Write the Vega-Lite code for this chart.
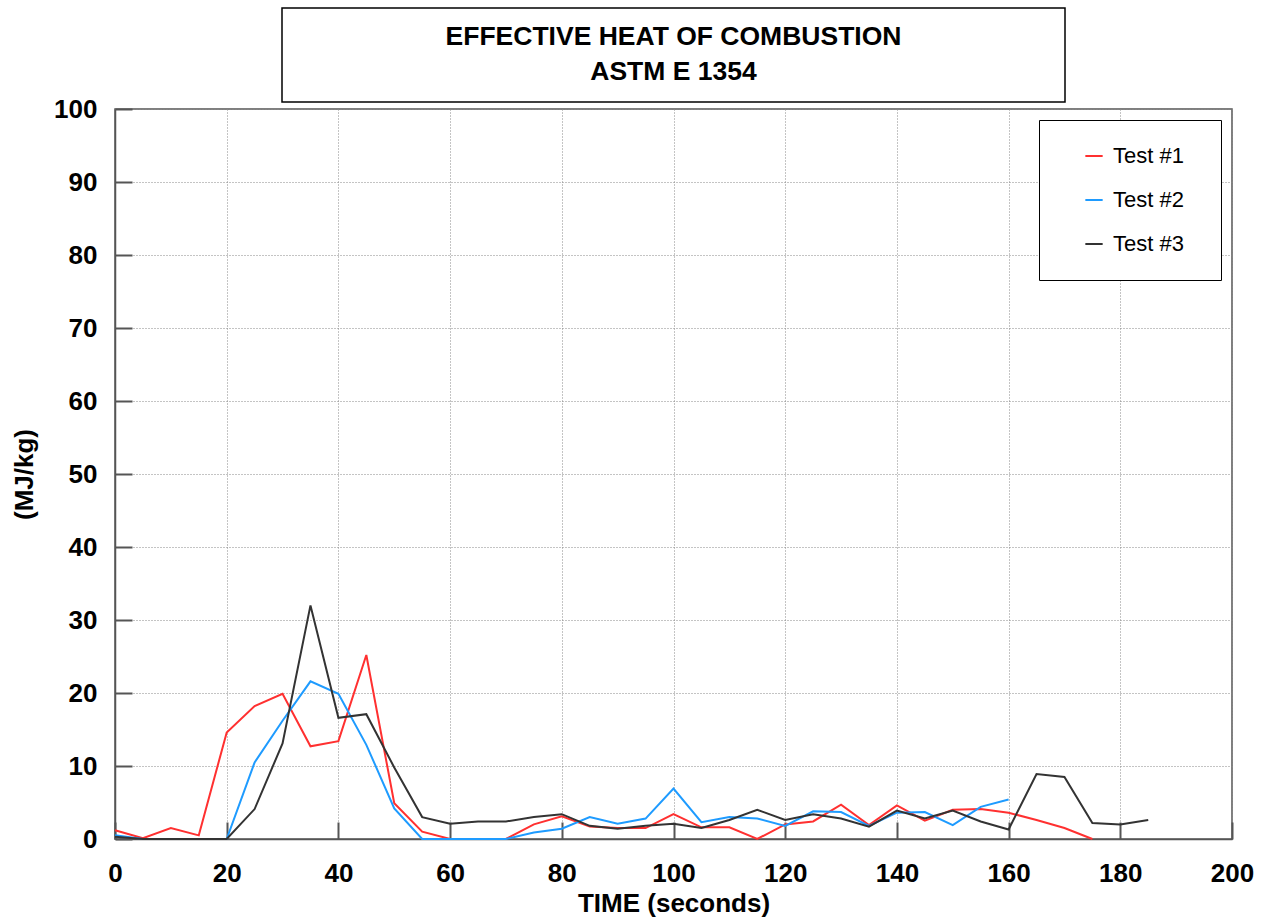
{
  "$schema": "https://vega.github.io/schema/vega-lite/v6.json",
  "padding": {"left": 10, "top": 7, "right": 5, "bottom": 3},
  "background": "white",
  "config": {
    "font": "Liberation Sans",
    "axis": {
      "labelFont": "Liberation Sans",
      "labelFontSize": 26,
      "labelFontWeight": "bold",
      "labelColor": "black",
      "titleFont": "Liberation Sans",
      "titleFontSize": 26,
      "titleFontWeight": "bold",
      "titleColor": "black",
      "domainColor": "#555",
      "domainWidth": 1.5,
      "tickColor": "#555",
      "tickWidth": 2,
      "tickSize": -17,
      "grid": true,
      "gridColor": "#888",
      "gridDash": [1, 2],
      "gridWidth": 1,
      "labelOverlap": false,
      "labelFlush": false
    }
  },
  "vconcat": [
    {
      "width": 783,
      "height": 94,
      "view": {"stroke": "black", "strokeWidth": 1.5, "fill": "white"},
      "data": {"values": [{"title": "EFFECTIVE HEAT OF COMBUSTION\nASTM E 1354"}]},
      "mark": {"type": "text", "fontSize": 26.5, "fontWeight": "bold", "lineBreak": "\n", "lineHeight": 35, "baseline": "middle", "align": "center", "dy": -18, "font": "Liberation Sans", "color": "black"},
      "encoding": {"text": {"field": "title", "type": "nominal"}}
    },
    {
      "width": 1117,
      "height": 730,
      "view": {"stroke": "#555", "strokeWidth": 1.5},
      "data": {"values": [
        {"test": "Test #1", "time": 0, "value": 1.2},
        {"test": "Test #1", "time": 5, "value": 0.1},
        {"test": "Test #1", "time": 10, "value": 1.5},
        {"test": "Test #1", "time": 15, "value": 0.5},
        {"test": "Test #1", "time": 20, "value": 14.6},
        {"test": "Test #1", "time": 25, "value": 18.2},
        {"test": "Test #1", "time": 30, "value": 19.9},
        {"test": "Test #1", "time": 35, "value": 12.7},
        {"test": "Test #1", "time": 40, "value": 13.4},
        {"test": "Test #1", "time": 45, "value": 25.2},
        {"test": "Test #1", "time": 50, "value": 4.9},
        {"test": "Test #1", "time": 55, "value": 1.0},
        {"test": "Test #1", "time": 60, "value": 0},
        {"test": "Test #1", "time": 65, "value": 0},
        {"test": "Test #1", "time": 70, "value": 0},
        {"test": "Test #1", "time": 75, "value": 2.0},
        {"test": "Test #1", "time": 80, "value": 3.1},
        {"test": "Test #1", "time": 85, "value": 1.7},
        {"test": "Test #1", "time": 90, "value": 1.5},
        {"test": "Test #1", "time": 95, "value": 1.5},
        {"test": "Test #1", "time": 100, "value": 3.4},
        {"test": "Test #1", "time": 105, "value": 1.6},
        {"test": "Test #1", "time": 110, "value": 1.6},
        {"test": "Test #1", "time": 115, "value": 0},
        {"test": "Test #1", "time": 120, "value": 2.0},
        {"test": "Test #1", "time": 125, "value": 2.4},
        {"test": "Test #1", "time": 130, "value": 4.7},
        {"test": "Test #1", "time": 135, "value": 1.9},
        {"test": "Test #1", "time": 140, "value": 4.6},
        {"test": "Test #1", "time": 145, "value": 2.5},
        {"test": "Test #1", "time": 150, "value": 4.0},
        {"test": "Test #1", "time": 155, "value": 4.1},
        {"test": "Test #1", "time": 160, "value": 3.6},
        {"test": "Test #1", "time": 165, "value": 2.6},
        {"test": "Test #1", "time": 170, "value": 1.5},
        {"test": "Test #1", "time": 175, "value": 0},
        {"test": "Test #2", "time": 0, "value": 0.5},
        {"test": "Test #2", "time": 5, "value": 0},
        {"test": "Test #2", "time": 10, "value": 0},
        {"test": "Test #2", "time": 15, "value": 0},
        {"test": "Test #2", "time": 20, "value": 0},
        {"test": "Test #2", "time": 25, "value": 10.5},
        {"test": "Test #2", "time": 30, "value": 16.2},
        {"test": "Test #2", "time": 35, "value": 21.6},
        {"test": "Test #2", "time": 40, "value": 19.9},
        {"test": "Test #2", "time": 45, "value": 12.9},
        {"test": "Test #2", "time": 50, "value": 4.2},
        {"test": "Test #2", "time": 55, "value": 0},
        {"test": "Test #2", "time": 60, "value": 0},
        {"test": "Test #2", "time": 65, "value": 0},
        {"test": "Test #2", "time": 70, "value": 0},
        {"test": "Test #2", "time": 75, "value": 0.9},
        {"test": "Test #2", "time": 80, "value": 1.4},
        {"test": "Test #2", "time": 85, "value": 3.0},
        {"test": "Test #2", "time": 90, "value": 2.1},
        {"test": "Test #2", "time": 95, "value": 2.8},
        {"test": "Test #2", "time": 100, "value": 6.9},
        {"test": "Test #2", "time": 105, "value": 2.3},
        {"test": "Test #2", "time": 110, "value": 3.0},
        {"test": "Test #2", "time": 115, "value": 2.8},
        {"test": "Test #2", "time": 120, "value": 1.8},
        {"test": "Test #2", "time": 125, "value": 3.8},
        {"test": "Test #2", "time": 130, "value": 3.7},
        {"test": "Test #2", "time": 135, "value": 1.8},
        {"test": "Test #2", "time": 140, "value": 3.6},
        {"test": "Test #2", "time": 145, "value": 3.7},
        {"test": "Test #2", "time": 150, "value": 1.9},
        {"test": "Test #2", "time": 155, "value": 4.4},
        {"test": "Test #2", "time": 160, "value": 5.4},
        {"test": "Test #3", "time": 0, "value": 0.3},
        {"test": "Test #3", "time": 5, "value": 0},
        {"test": "Test #3", "time": 10, "value": 0},
        {"test": "Test #3", "time": 15, "value": 0},
        {"test": "Test #3", "time": 20, "value": 0},
        {"test": "Test #3", "time": 25, "value": 4.1},
        {"test": "Test #3", "time": 30, "value": 13.1},
        {"test": "Test #3", "time": 35, "value": 32.0},
        {"test": "Test #3", "time": 40, "value": 16.6},
        {"test": "Test #3", "time": 45, "value": 17.1},
        {"test": "Test #3", "time": 50, "value": 9.8},
        {"test": "Test #3", "time": 55, "value": 3.0},
        {"test": "Test #3", "time": 60, "value": 2.1},
        {"test": "Test #3", "time": 65, "value": 2.4},
        {"test": "Test #3", "time": 70, "value": 2.4},
        {"test": "Test #3", "time": 75, "value": 3.0},
        {"test": "Test #3", "time": 80, "value": 3.4},
        {"test": "Test #3", "time": 85, "value": 1.8},
        {"test": "Test #3", "time": 90, "value": 1.4},
        {"test": "Test #3", "time": 95, "value": 1.8},
        {"test": "Test #3", "time": 100, "value": 2.1},
        {"test": "Test #3", "time": 105, "value": 1.5},
        {"test": "Test #3", "time": 110, "value": 2.6},
        {"test": "Test #3", "time": 115, "value": 4.0},
        {"test": "Test #3", "time": 120, "value": 2.6},
        {"test": "Test #3", "time": 125, "value": 3.4},
        {"test": "Test #3", "time": 130, "value": 2.8},
        {"test": "Test #3", "time": 135, "value": 1.7},
        {"test": "Test #3", "time": 140, "value": 3.9},
        {"test": "Test #3", "time": 145, "value": 2.8},
        {"test": "Test #3", "time": 150, "value": 3.9},
        {"test": "Test #3", "time": 155, "value": 2.4},
        {"test": "Test #3", "time": 160, "value": 1.3},
        {"test": "Test #3", "time": 165, "value": 8.9},
        {"test": "Test #3", "time": 170, "value": 8.5},
        {"test": "Test #3", "time": 175, "value": 2.2},
        {"test": "Test #3", "time": 180, "value": 2.0},
        {"test": "Test #3", "time": 185, "value": 2.6}
      ]},
      "mark": {"type": "line", "strokeWidth": 2},
      "encoding": {
        "x": {
          "field": "time", "type": "quantitative",
          "scale": {"domain": [0, 200], "nice": false, "zero": false},
          "axis": {"values": [0, 20, 40, 60, 80, 100, 120, 140, 160, 180, 200], "title": "TIME (seconds)", "labelPadding": 38, "titlePadding": 4}
        },
        "y": {
          "field": "value", "type": "quantitative",
          "scale": {"domain": [0, 100], "nice": false},
          "axis": {"values": [0, 10, 20, 30, 40, 50, 60, 70, 80, 90, 100], "title": "(MJ/kg)", "labelPadding": 35, "titlePadding": 16}
        },
        "color": {
          "field": "test", "type": "nominal",
          "scale": {"domain": ["Test #1", "Test #2", "Test #3"], "range": ["#ff3030", "#1e9bff", "#333333"]},
          "legend": {
            "title": "\u00a0",
            "titleOrient": "right",
            "titleFontSize": 20,
            "titlePadding": 12,
            "orient": "none",
            "legendX": 924,
            "legendY": 112,
            "fillColor": "white",
            "strokeColor": "black",
            "padding": 25,
            "symbolType": "stroke",
            "symbolSize": 300,
            "symbolStrokeWidth": 2,
            "symbolOffset": 19,
            "labelFont": "Liberation Sans",
            "labelFontSize": 22,
            "labelColor": "black",
            "labelOffset": 8,
            "rowPadding": 22
          }
        }
      }
    }
  ],
  "spacing": 7,
  "bounds": "flush",
  "center": true
}
